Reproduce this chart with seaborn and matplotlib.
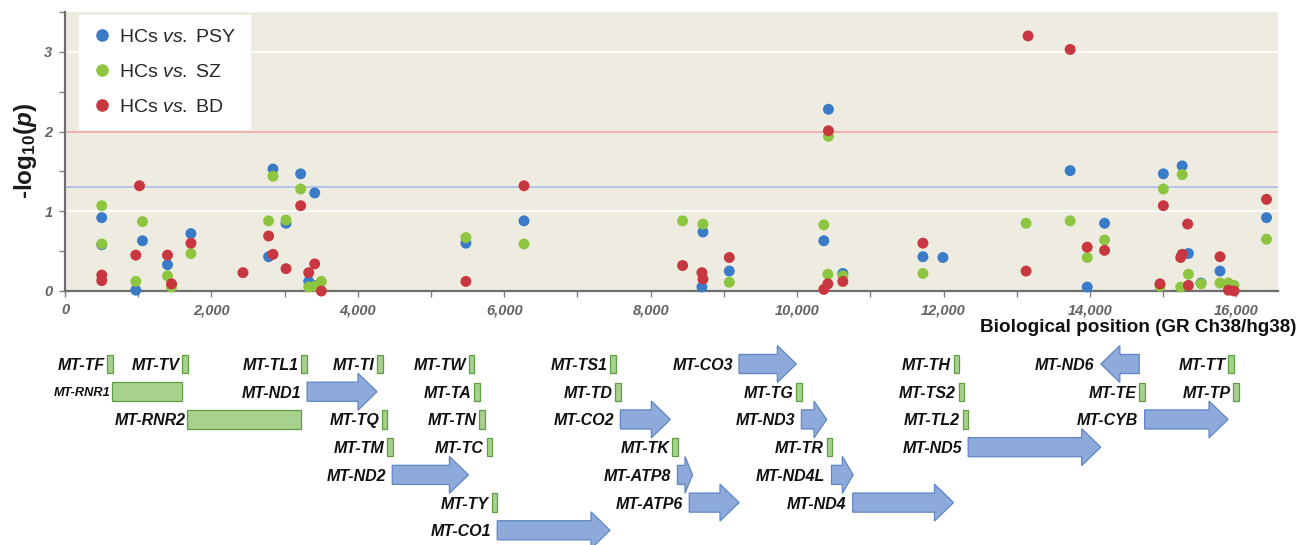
import numpy as np
import pandas as pd
import seaborn as sns
import matplotlib.pyplot as plt
from matplotlib.patches import FancyArrow, Rectangle
from matplotlib.ticker import MultipleLocator

# -log10(p) per variant position, one pair of lists per comparison
psy_pos = [502, 502, 967, 1058, 1400, 1720, 2781, 2841, 3019, 3219, 3329, 3411, 3411,
           5476, 6270, 8700, 8714, 9074, 10365, 10428, 10625, 11719, 11992, 13730, 13963,
           14200, 15003, 15260, 15345, 15517, 15777, 16412]
psy_val = [0.92, 0.58, 0.01, 0.63, 0.33, 0.72, 0.43, 1.53, 0.85, 1.47, 0.12, 1.23, 0.07,
           0.60, 0.88, 0.05, 0.74, 0.25, 0.63, 2.28, 0.22, 0.43, 0.42, 1.51, 0.05,
           0.85, 1.47, 1.57, 0.47, 0.10, 0.25, 0.92]

sz_pos = [502, 502, 967, 1058, 1400, 1455, 1720, 2781, 2841, 3019, 3219, 3329, 3411, 3502,
          5476, 6270, 8436, 8714, 9074, 10365, 10420, 10428, 10625, 11719, 13128, 13730,
          13963, 14200, 14957, 15003, 15240, 15260, 15345, 15517, 15777, 15891, 15968, 16412]
sz_val = [1.07, 0.59, 0.12, 0.87, 0.19, 0.05, 0.47, 0.88, 1.44, 0.89, 1.28, 0.05, 0.06, 0.12,
          0.67, 0.59, 0.88, 0.84, 0.11, 0.83, 0.21, 1.94, 0.19, 0.22, 0.85, 0.88,
          0.42, 0.64, 0.06, 1.28, 0.05, 1.46, 0.21, 0.09, 0.10, 0.10, 0.07, 0.65]

bd_pos = [502, 502, 967, 1017, 1400, 1455, 1720, 2431, 2781, 2841, 3019, 3219, 3329, 3411,
          3502, 5476, 6270, 8436, 8700, 8714, 9074, 10365, 10420, 10428, 10625, 11719,
          13128, 13155, 13730, 13963, 14200, 14957, 15003, 15240, 15260, 15335, 15345,
          15777, 15891, 15968, 16412]
bd_val = [0.20, 0.13, 0.45, 1.32, 0.45, 0.09, 0.60, 0.23, 0.69, 0.46, 0.28, 1.07, 0.23, 0.34,
          0.00, 0.12, 1.32, 0.32, 0.23, 0.15, 0.42, 0.02, 0.09, 2.01, 0.12, 0.60,
          0.25, 3.20, 3.03, 0.55, 0.51, 0.09, 1.07, 0.42, 0.46, 0.84, 0.07,
          0.43, 0.01, 0.00, 1.15]

groups = [r"HCs $\mathit{vs.}$ PSY", r"HCs $\mathit{vs.}$ SZ", r"HCs $\mathit{vs.}$ BD"]
colors = ["#3A7BC8", "#8DC540", "#C8373F"]

# mitochondrial genes (GRCh38 chrM), lane in the map and type
gene_name = ["MT-TF", "MT-RNR1", "MT-TV", "MT-RNR2", "MT-TL1", "MT-ND1", "MT-TI", "MT-TQ",
             "MT-TM", "MT-ND2", "MT-TW", "MT-TA", "MT-TN", "MT-TC", "MT-TY", "MT-CO1",
             "MT-TS1", "MT-TD", "MT-CO2", "MT-TK", "MT-ATP8", "MT-ATP6", "MT-CO3", "MT-TG",
             "MT-ND3", "MT-TR", "MT-ND4L", "MT-ND4", "MT-TH", "MT-TS2", "MT-TL2", "MT-ND5",
             "MT-ND6", "MT-TE", "MT-CYB", "MT-TT", "MT-TP"]
gene_start = [577, 648, 1602, 1671, 3230, 3307, 4263, 4329, 4402, 4470, 5512, 5587, 5657,
              5761, 5826, 5904, 7446, 7518, 7586, 8295, 8366, 8527, 9207, 9991, 10059,
              10405, 10470, 10760, 12138, 12207, 12266, 12337, 14149, 14674, 14747, 15888, 15956]
gene_end = [647, 1601, 1670, 3229, 3304, 4262, 4331, 4400, 4469, 5511, 5579, 5655, 5729,
            5826, 5891, 7445, 7514, 7585, 8269, 8364, 8572, 9207, 9990, 10058, 10404,
            10469, 10766, 12137, 12206, 12265, 12336, 14148, 14673, 14742, 15887, 15953, 16023]
gene_lane = [0, 1, 0, 2, 0, 1, 0, 2, 3, 4, 0, 1, 2, 3, 5, 6, 0, 1, 2, 3, 4, 5, 0, 1, 2, 3,
             4, 5, 0, 1, 2, 3, 0, 1, 2, 0, 1]
gene_kind = ["t", "r", "t", "r", "t", "+", "t", "t", "t", "+", "t", "t", "t", "t", "t", "+",
             "t", "t", "+", "t", "+", "+", "+", "t", "+", "t", "+", "+", "t", "t", "t", "+",
             "-", "t", "+", "t", "t"]

sns.set_style("ticks")
plt.rcParams["font.family"] = ["Liberation Sans", "DejaVu Sans"]
plt.rcParams["mathtext.fontset"] = "custom"
plt.rcParams["mathtext.rm"] = "Liberation Sans"
plt.rcParams["mathtext.bf"] = "Liberation Sans:bold"
plt.rcParams["mathtext.it"] = "Liberation Sans:italic"
plt.rcParams["mathtext.sf"] = "Liberation Sans:bold:italic"

df = pd.concat([
    pd.DataFrame({"pos": psy_pos, "val": psy_val, "group": groups[0]}),
    pd.DataFrame({"pos": sz_pos, "val": sz_val, "group": groups[1]}),
    pd.DataFrame({"pos": bd_pos, "val": bd_val, "group": groups[2]}),
], ignore_index=True)

W, H = 1307, 545
fig = plt.figure(figsize=(W / 100, H / 100), dpi=100)
ax = fig.add_axes([65 / W, 1 - 291 / H, 1213 / W, 279 / H])
ax.set_facecolor("#EEEBE0")

ax.yaxis.grid(True, color="white", lw=1.2)
ax.xaxis.grid(False)
ax.axhline(2, color="#F2A3A3", lw=1.2, zorder=1)
ax.axhline(-np.log10(0.05), color="#A8BDE8", lw=1.2, zorder=1)

sns.scatterplot(data=df, x="pos", y="val", hue="group", palette=colors, s=62,
                linewidth=0, ax=ax, zorder=3, clip_on=False)

ax.set_xlim(0, 16569)
ax.set_ylim(0, 3.5)
ax.set_xticks(range(0, 16001, 2000))
ax.set_xticklabels([f"{v:,}" for v in range(0, 16001, 2000)])
ax.xaxis.set_minor_locator(MultipleLocator(1000))
ax.set_yticks([0, 1, 2, 3])
ax.yaxis.set_minor_locator(MultipleLocator(0.5))
ax.tick_params(which="both", direction="out", length=4, width=1, color="#7F7F7F",
               labelcolor="#646464")
ax.tick_params(axis="both", pad=5)
for lab in ax.get_xticklabels() + ax.get_yticklabels():
    lab.set_fontsize(10.5)
    lab.set_fontweight("bold")
    lab.set_fontstyle("italic")
for s in ["top", "right"]:
    ax.spines[s].set_visible(False)
for s in ["left", "bottom"]:
    ax.spines[s].set_color("#6E6E6E")
    ax.spines[s].set_linewidth(1.6)

ax.set_xlabel("")
ax.set_ylabel(r"-log$_{\mathbf{10}}$($\mathsf{p}$)", fontsize=17.5, fontweight="bold",
              color="#1A1A1A", labelpad=4)
fig.text(1297 / W, 1 - 327 / H, "Biological position (GR Ch38/hg38)", ha="right",
         va="center", fontsize=13.6, fontweight="bold", color="#111111")

leg = ax.legend(loc="upper left", bbox_to_anchor=(14 / 1213, 1 - 3 / 279), frameon=True,
                fontsize=14, markerscale=1.15, handletextpad=0.35, labelspacing=0.88,
                borderpad=0.7, borderaxespad=0, handlelength=1.0, fancybox=False)
leg.get_frame().set_facecolor("white")
leg.get_frame().set_edgecolor("white")
leg.get_frame().set_alpha(1)

# gene map below the scatter, sharing the genomic x scale
gx = fig.add_axes([65 / W, 0, 1213 / W, 205 / H])
gx.set_xlim(0, 16569)
gx.set_ylim(6.53, -0.866)
gx.axis("off")

for name, st, en, lane, kind in zip(gene_name, gene_start, gene_end, gene_lane, gene_kind):
    length = en - st
    if kind == "t":
        gx.add_patch(Rectangle((st, lane - 0.33), max(length, 75), 0.66,
                               fc="#A9D18E", ec="#5E9E43", lw=0.9))
        left, gap = st, 2
    elif kind == "r":
        gx.add_patch(Rectangle((st, lane - 0.345), length, 0.69,
                               fc="#A9D18E", ec="#5E9E43", lw=0.9))
        left, gap = st, 1.5
    else:
        hl = min(260, 0.5 * length)
        if kind == "+":
            arr = FancyArrow(st, lane, length, 0, width=0.69, head_width=1.33, head_length=hl,
                             length_includes_head=True, fc="#8EAADB", ec="#5F86C6", lw=0.9)
        else:
            arr = FancyArrow(en, lane, -length, 0, width=0.69, head_width=1.33, head_length=hl,
                             length_includes_head=True, fc="#8EAADB", ec="#5F86C6", lw=0.9)
        gx.add_patch(arr)
        left, gap = st, 4.5
    fs = 9.2 if name == "MT-RNR1" else 11.5
    gx.annotate(name, xy=(left, lane), xytext=(-gap, 0), textcoords="offset points",
                ha="right", va="center_baseline", fontsize=fs, fontweight="bold",
                fontstyle="italic", color="#111111")

fig.savefig("out.png", dpi=100)
